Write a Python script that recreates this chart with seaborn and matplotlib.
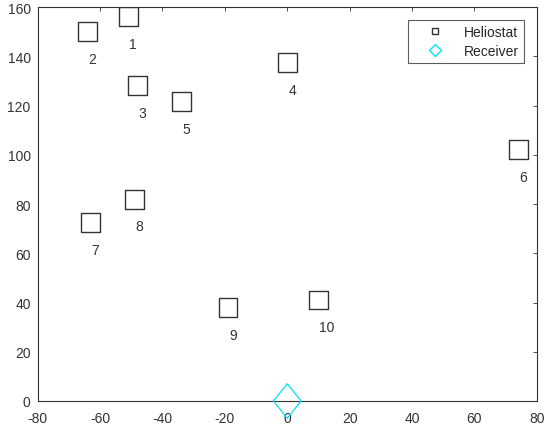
import numpy as np
import pandas as pd
import matplotlib
matplotlib.use("Agg")
import matplotlib.pyplot as plt
from matplotlib.lines import Line2D
import seaborn as sns

# heliostat positions
helio_id = [1, 2, 3, 4, 5, 6, 7, 8, 9, 10]
helio_x = [-51, -64, -48, 0, -34, 74, -63, -49, -19, 10]
helio_y = [156, 150, 128, 137.5, 121.5, 102, 72.5, 82, 38, 41]
receiver_x = [0]
receiver_y = [0]

sns.set_style("white")
plt.rcParams['font.family'] = ['Liberation Sans', 'DejaVu Sans']
plt.rcParams['xtick.direction'] = 'in'
plt.rcParams['ytick.direction'] = 'in'
plt.rcParams['axes.unicode_minus'] = False

ink = "#333333"

df_h = pd.DataFrame({"x": helio_x, "y": helio_y, "id": helio_id})
df_r = pd.DataFrame({"x": receiver_x, "y": receiver_y})

fig = plt.figure(figsize=(5.5, 4.31), dpi=100)
ax = fig.add_axes([0.0685, 0.0673, 0.9075, 0.914])

sns.scatterplot(data=df_h, x="x", y="y", marker="s", s=185, facecolor="none",
                edgecolor=ink, linewidth=1.0, ax=ax, zorder=3)
diamond = [(0, 1), (0.8, 0), (0, -1), (-0.8, 0), (0, 1)]
sns.scatterplot(data=df_r, x="x", y="y", marker=diamond, s=620, facecolor="none",
                edgecolor="#00e5ee", linewidth=0.9, ax=ax, zorder=3, clip_on=False)

for i, x, y in zip(helio_id, helio_x, helio_y):
    ax.text(x + 0.3, y - 11, str(i), ha="left", va="center", fontsize=10, color=ink)

ax.set_xlim(-80, 80)
ax.set_ylim(0, 160)
ax.set_xticks(np.arange(-80, 81, 20))
ax.set_yticks(np.arange(0, 161, 20))
ax.set_xlabel("")
ax.set_ylabel("")
ax.tick_params(axis="both", labelsize=10, colors=ink, length=3, width=0.6,
               top=True, right=True, labeltop=False, labelright=False)
ax.tick_params(axis="x", pad=7)
ax.tick_params(axis="y", pad=5)
for sp in ax.spines.values():
    sp.set_color(ink)
    sp.set_linewidth(0.8)

handles = [
    Line2D([], [], marker="s", linestyle="none", markersize=5, markerfacecolor="none",
           markeredgecolor=ink, markeredgewidth=1.0),
    Line2D([], [], marker="D", linestyle="none", markersize=6, markerfacecolor="none",
           markeredgecolor="#00e5ee", markeredgewidth=1.0),
]
leg = ax.legend(handles, ["Heliostat", "Receiver"], loc="upper right", fontsize=10,
                frameon=True, fancybox=False, edgecolor=ink, borderpad=0.35,
                handlelength=3.3, handletextpad=0.4, labelspacing=0.35,
                borderaxespad=0, bbox_to_anchor=(0.974, 0.967))
leg.get_frame().set_linewidth(0.8)

fig.savefig("out.png", dpi=100)
